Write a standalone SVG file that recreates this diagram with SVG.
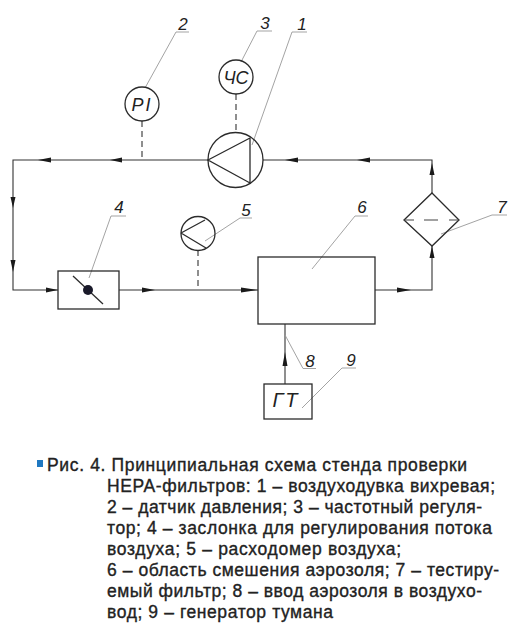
<svg xmlns="http://www.w3.org/2000/svg" width="530" height="636" viewBox="0 0 530 636">
<style>
.l{fill:none;stroke:#333;stroke-width:1.1}
.s{fill:none;stroke:#2b2b2b;stroke-width:1.3}
.d{fill:none;stroke:#444;stroke-width:1.2;stroke-dasharray:6 4}
.g{fill:none;stroke:#999;stroke-width:0.9}
.a{fill:#1a1a1a;stroke:none}
.n{font-family:"Liberation Sans",Arial,sans-serif;font-style:italic;font-size:17px;fill:#222;text-anchor:middle}
.i{font-size:18px}
.t{font-family:"Liberation Sans",Arial,sans-serif;font-size:17.500px;fill:#222;stroke:#222;stroke-width:.35}
</style>
<rect width="530" height="636" fill="#fff"/>
<g id="connectors">
<path class="l" d="M208 160H13V290H58"/>
<path class="l" d="M263 160H432V193"/>
<path class="l" d="M119 290H258"/>
<path class="l" d="M375 290H432V246"/>
<path class="l" d="M285 384V324"/>
<path class="d" d="M142 121V160"/>
<path class="d" d="M236 94V134"/>
<path class="d" d="M198 250V290"/>
<path class="a" d="M38 160L51 157.500V162.500Z"/>
<path class="a" d="M110 160L122 157.500V162.500Z"/>
<path class="a" d="M285 160L298 157.500V162.500Z"/>
<path class="a" d="M357 160L370 157.500V162.500Z"/>
<path class="a" d="M13 208L10.500 197H15.500Z"/>
<path class="a" d="M13 272L10.500 260H15.500Z"/>
<path class="a" d="M58 290L46 287.500V292.500Z"/>
<path class="a" d="M155 290L142 287.500V292.500Z"/>
<path class="a" d="M258 290L241 287.500V292.500Z"/>
<path class="a" d="M411 290L397 287.500V292.500Z"/>
<path class="a" d="M432 163L429.500 175H434.500Z"/>
<path class="a" d="M432 246L429.500 258H434.500Z"/>
<path class="a" d="M285 352L282.500 366H287.500Z"/>
</g>
<g id="leaders">
<path class="g" d="M145 88L176 32H189"/>
<path class="g" d="M241 62L257 31H272"/>
<path class="g" d="M252 145L292 32H307"/>
<path class="g" d="M89 278L111 216H126"/>
<path class="g" d="M205 241L240 218H252"/>
<path class="g" d="M312 269L355 216H368"/>
<path class="g" d="M441 234L492 215H507"/>
<path class="g" d="M285 335L303 368.500H316"/>
<path class="g" d="M302 408L342 368H356"/>
</g>
<g id="node1"><circle class="s" cx="235.500" cy="160" r="27.500"/><path class="s" d="M208 160L250 138V183Z"/><text class="n" x="302" y="30">1</text></g>
<g id="node2"><circle class="s" cx="142" cy="104" r="17"/><text class="n i" x="142" y="111" letter-spacing="2">PI</text><text class="n" x="183" y="30">2</text></g>
<g id="node3"><circle class="s" cx="236" cy="77" r="17"/><text class="n i" x="236" y="84">ЧС</text><text class="n" x="265" y="29">3</text></g>
<g id="node4"><rect class="s" x="58" y="271" width="61" height="38"/><path class="s" d="M73 276L103 304"/><circle cx="88" cy="290" r="5" fill="#1a1a2a"/><text class="n" x="119" y="213">4</text></g>
<g id="node5"><circle class="s" cx="198" cy="233.500" r="17"/><path class="s" d="M181 233L205 220M181 233L206 248"/><text class="n" x="246" y="216">5</text></g>
<g id="node6"><rect class="s" x="258" y="257" width="117" height="67"/><text class="n" x="362" y="213">6</text></g>
<g id="node7"><path class="s" d="M432 193L459 220L432 246L404 220Z"/><path class="d" d="M404 220H459" style="stroke-dasharray:10 10 14 11 10"/><text class="n" x="502" y="213">7</text></g>
<g id="node8"><text class="n" x="310" y="367">8</text></g>
<g id="node9"><rect class="s" x="264" y="384" width="48" height="35"/><text class="n" x="286" y="407" style="font-size:20px" letter-spacing="2">ГТ</text><text class="n" x="351" y="366">9</text></g>
<g id="caption">
<rect x="37" y="460" width="6" height="7" fill="#1f78c1"/>
<text class="t" x="47" y="471" textLength="420">Рис. 4. Принципиальная схема стенда проверки</text>
<text class="t" x="107" y="492" textLength="388">НЕРА-фильтров: 1 – воздуходувка вихревая;</text>
<text class="t" x="107" y="513" textLength="375">2 – датчик давления; 3 – частотный регуля-</text>
<text class="t" x="107" y="534" textLength="385">тор; 4 – заслонка для регулирования потока</text>
<text class="t" x="107" y="555" textLength="294">воздуха; 5 – расходомер воздуха;</text>
<text class="t" x="107" y="576" textLength="392">6 – область смешения аэрозоля; 7 – тестиру-</text>
<text class="t" x="107" y="597" textLength="375">емый фильтр; 8 – ввод аэрозоля в воздухо-</text>
<text class="t" x="107" y="618" textLength="226">вод; 9 – генератор тумана</text>
</g>
</svg>
